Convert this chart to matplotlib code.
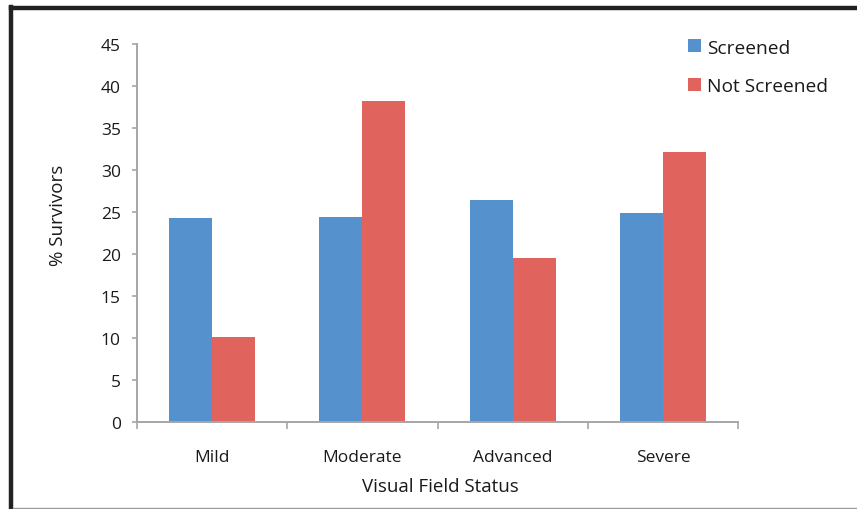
import matplotlib.pyplot as plt
import numpy as np
from matplotlib.lines import Line2D
from matplotlib.patches import Patch

# survival by visual field status
categories = ["Mild", "Moderate", "Advanced", "Severe"]
screened = [24.3, 24.4, 26.4, 24.9]
not_screened = [10.2, 38.2, 19.6, 32.1]
series_names = ["Screened", "Not Screened"]

BLUE = "#5592CD"
RED = "#E1635D"
AXIS_GREY = "#A6A6A6"
TEXT = "#1a1a1a"

plt.rcParams["font.family"] = ["Open Sans", "DejaVu Sans"]

fig = plt.figure(figsize=(8.57, 5.10), dpi=100)
ax = fig.add_axes([137 / 857, 1 - 423.3 / 510, (738 - 137) / 857, (423.3 - 45) / 510])

x = np.arange(len(categories))
width = 1 / 3.5
ax.bar(x - width / 2, screened, width, color=BLUE, label=series_names[0])
ax.bar(x + width / 2, not_screened, width, color=RED, label=series_names[1])

ax.set_xlim(-0.5, len(categories) - 0.5)
ax.set_ylim(0, 45)
ax.set_yticks(np.arange(0, 46, 5))

# category ticks sit on the boundaries between groups
ax.set_xticks(np.arange(-0.5, len(categories)), minor=False)
ax.set_xticklabels([])
ax.set_xticks(x, minor=True)
ax.set_xticklabels(categories, minor=True)
ax.tick_params(axis="x", which="major", length=5, width=1.2, color=AXIS_GREY, direction="out")
ax.tick_params(axis="x", which="minor", length=0, pad=19.5, labelsize=12.5, labelcolor=TEXT)
ax.tick_params(axis="y", length=3.6, width=1.2, color=AXIS_GREY, direction="out",
               pad=8, labelsize=12.5, labelcolor=TEXT)

for side in ("top", "right"):
    ax.spines[side].set_visible(False)
for side in ("left", "bottom"):
    ax.spines[side].set_color(AXIS_GREY)
    ax.spines[side].set_linewidth(1.4)

fig.text(58 / 857, 1 - 215 / 510, "% Survivors", rotation=90, ha="center", va="center",
         fontsize=13.5, color=TEXT)
fig.text(440 / 857, 1 - 487 / 510, "Visual Field Status", ha="center", va="center",
         fontsize=13.5, color=TEXT)

handles = [Patch(facecolor=BLUE), Patch(facecolor=RED)]
fig.legend(handles, series_names, loc="center left", bbox_to_anchor=(688 / 857, 1 - 68 / 510),
           frameon=False, borderpad=0, borderaxespad=0, handlelength=0.67, handleheight=0.67,
           handletextpad=0.3, labelspacing=1.08, fontsize=13.8, labelcolor=TEXT)

# frame around the figure
fig.add_artist(Line2D([11 / 857, 1], [1 - 9 / 510, 1 - 9 / 510], transform=fig.transFigure,
                      color="#222222", linewidth=3.2))
fig.add_artist(Line2D([11 / 857, 11 / 857], [0, 1 - 7.5 / 510], transform=fig.transFigure,
                      color="#222222", linewidth=3.2))
fig.add_artist(Line2D([13 / 857, 1], [1 - 508.5 / 510, 1 - 508.5 / 510], transform=fig.transFigure,
                      color="#9a9a9a", linewidth=1.0))

fig.savefig("out.png", dpi=100)
